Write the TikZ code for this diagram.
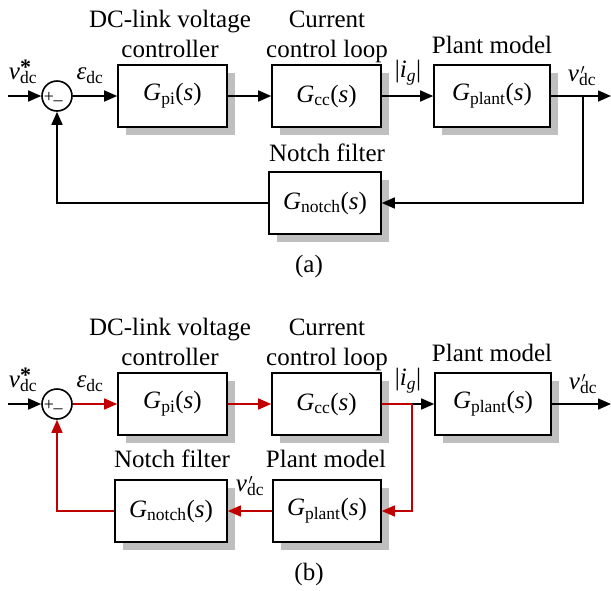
\documentclass[tikz,border=0pt]{standalone}
\usepackage{fontspec}
\setmainfont{Liberation Serif}
\usepackage{tikz}
\usetikzlibrary{arrows.meta,shadows}
\definecolor{fbred}{RGB}{192,0,0}
\newcommand{\tf}[1]{\textit{G}\textsubscript{#1}(\textit{s})}
\newcommand{\vdc}[1]{\textit{v}\rlap{#1}\textsubscript{dc}}
\newcommand{\vstar}{\vdc{\raisebox{5pt}{\fontsize{22}{22}\selectfont\textbf{*}}}}
\newcommand{\vprime}{\vdc{\hspace{1.5pt}\raisebox{7pt}{\fontsize{15}{15}\selectfont$\prime$}}}

\begin{document}
\begin{tikzpicture}[
  x=1pt, y=-1pt,
  font=\fontsize{25}{30}\selectfont,
  block/.style={draw, line width=1.6pt, fill=white, minimum height=62pt, inner sep=0pt,
    drop shadow={shadow xshift=8pt, shadow yshift=-8pt, fill=black!25, opacity=1, draw=none}},
  sumnode/.style={draw, circle, line width=1.6pt, minimum size=30pt, inner sep=0pt},
  sign/.style={inner sep=0pt, font=\fontsize{18}{18}\selectfont},
  lab/.style={align=center, inner sep=0pt},
  arrow/.style={-{Triangle[length=13pt, width=11pt]}, line width=1.6pt},
  redline/.style={draw=fbred, line width=1.3pt},
  redarrow/.style={arrow, draw=fbred, line width=1.3pt}
]
\useasboundingbox (0,0) rectangle (611,590);

% (a)
\node[sumnode] (suma) at (57,96) {};
\node[sign] (plusa) at (49,97) {+};
\node[sign] (minusa) at (58,103) {--};
\node[block, minimum width=109pt] (pia) at (172.5,96) {\tf{pi}};
\node[block, minimum width=109pt] (cca) at (326.5,96) {\tf{cc}};
\node[block, minimum width=116pt] (planta) at (492,96) {\tf{plant}};
\node[block, minimum width=112pt] (notcha) at (325,203) {\tf{notch}};
\node[lab, anchor=base] (pilaba) at (170,57) {DC-link voltage\\controller};
\node[lab, anchor=base] (cclaba) at (327,57) {Current\\control loop};
\node[lab, anchor=base] (plantlaba) at (492,53) {Plant model};
\node[lab, anchor=base] (notchlaba) at (327,161) {Notch filter};
\node[lab] (vrefa) at (23,72) {\vstar};
\node[lab] (erra) at (90,76) {\textit{ε}\textsubscript{dc}};
\node[lab] (iga) at (408,73) {|\textit{i}\textsubscript{\textit{g}}|};
\node[lab] (vouta) at (582,76) {\vprime};
\node[lab] (capa) at (309,266) {(a)};
\coordinate (ina) at (8,96);
\coordinate (brancha) at (583,96);
\coordinate (outa) at (611,96);
\draw[arrow] (ina) -- (suma);
\draw[arrow] (suma) -- (pia);
\draw[arrow] (pia) -- (cca);
\draw[arrow] (cca) -- (planta);
\draw[arrow] (planta) -- (outa);
\draw[arrow] (brancha) |- (notcha);
\draw[arrow] (notcha) -| (suma);

% (b)
\node[sumnode] (sumb) at (57,404) {};
\node[sign] (plusb) at (49,405) {+};
\node[sign] (minusb) at (58,411) {--};
\node[block, minimum width=109pt] (pib) at (172.5,404) {\tf{pi}};
\node[block, minimum width=109pt] (ccb) at (326.5,404) {\tf{cc}};
\node[block, minimum width=116pt] (plantb) at (493,404) {\tf{plant}};
\node[block, minimum width=108pt] (modelb) at (327,511) {\tf{plant}};
\node[block, minimum width=112pt] (notchb) at (171,511) {\tf{notch}};
\node[lab, anchor=base] (pilabb) at (170,365) {DC-link voltage\\controller};
\node[lab, anchor=base] (cclabb) at (327,365) {Current\\control loop};
\node[lab, anchor=base] (plantlabb) at (492,361) {Plant model};
\node[lab, anchor=base] (notchlabb) at (172,467) {Notch filter};
\node[lab, anchor=base] (modellabb) at (326,467) {Plant model};
\node[lab] (vrefb) at (23,380) {\vstar};
\node[lab] (errb) at (90,384) {\textit{ε}\textsubscript{dc}};
\node[lab] (igb) at (408,381) {|\textit{i}\textsubscript{\textit{g}}|};
\node[lab] (voutb) at (583,384) {\vprime};
\node[lab] (vfbb) at (250,486) {\vprime};
\node[lab] (capb) at (309,574) {(b)};
\coordinate (inb) at (8,404);
\coordinate (branchb) at (412,404);
\coordinate (outb) at (611,404);
\draw[arrow] (inb) -- (sumb);
\draw[redarrow] (sumb) -- (pib);
\draw[redarrow] (pib) -- (ccb);
\draw[redline] (ccb) -- (branchb);
\draw[arrow] (branchb) -- (plantb);
\draw[arrow] (plantb) -- (outb);
\draw[redarrow] (branchb) |- (modelb);
\draw[redarrow] (modelb) -- (notchb);
\draw[redarrow] (notchb) -| (sumb);
\end{tikzpicture}
\end{document}
